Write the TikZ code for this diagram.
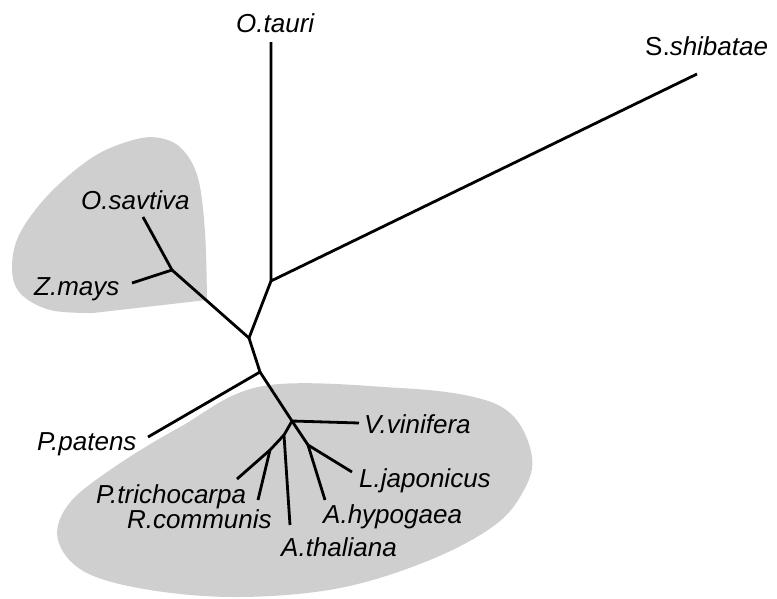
\documentclass[tikz,border=0pt]{standalone}
\usepackage{fontspec}
\setmainfont{Liberation Sans}
\definecolor{blobgray}{RGB}{207,207,207}
\begin{document}
\begin{tikzpicture}[x=1pt,y=-1pt,
  branch/.style={line width=2.8pt,line join=round},
  blob/.style={fill=blobgray,draw=none},
  leaf/.style={anchor=base west,inner sep=0pt,font=\fontsize{26}{31}\selectfont\itshape}]
\useasboundingbox (0,0) rectangle (777,598);
% shaded clades
\fill[blob] plot[smooth,tension=0.6] coordinates {(207,300) (205,232) (198,178) (182,149) (160,138) (133,140) (93,157) (50,193) (20,233) (12,267) (20,293) (50,310) (93,313)} -- (207,300) -- cycle;
\fill[blob] plot[smooth cycle,tension=0.6] coordinates {(263,386) (400,388) (478,398) (515,418) (532,457) (524,490) (495,525) (430,560) (340,588) (240,597) (150,590) (85,572) (58,540) (68,505) (110,470) (180,427)};
% internal nodes
\coordinate (n1) at (271,281);
\coordinate (n2) at (249,338);
\coordinate (n3) at (172,270);
\coordinate (n4) at (260,372);
\coordinate (n5) at (292,421);
\coordinate (n6) at (308,445);
\coordinate (n7) at (284,435);
\coordinate (n8) at (270,450);
% leaf ends
\coordinate (tauE) at (271,42);
\coordinate (shiE) at (697,74);
\coordinate (savE) at (143,217);
\coordinate (zmaE) at (132,283);
\coordinate (patE) at (148,437);
\coordinate (vinE) at (359,423);
\coordinate (japE) at (352,472);
\coordinate (hypE) at (325,500);
\coordinate (thaE) at (290,525);
\coordinate (triE) at (237,479);
\coordinate (ricE) at (258,500);
% branches
\draw[branch] (tauE) -- (n1) -- (shiE);
\draw[branch] (n1) -- (n2) -- (n3) -- (savE);
\draw[branch] (n3) -- (zmaE);
\draw[branch] (n2) -- (n4) -- (patE);
\draw[branch] (n4) -- (n5) -- (vinE);
\draw[branch] (n5) -- (n6) -- (japE);
\draw[branch] (n6) -- (hypE);
\draw[branch] (n5) -- (n7) -- (thaE);
\draw[branch] (n7) -- (n8) -- (triE);
\draw[branch] (n8) -- (ricE);
% labels
\node[leaf] (tau) at (236,32) {O.tauri};
\node[leaf] (shi) at (645,55) {\upshape S.\itshape shibatae};
\node[leaf] (sav) at (81,209) {O.savtiva};
\node[leaf] (zma) at (34,295) {Z.mays};
\node[leaf] (pat) at (37,450) {P.patens};
\node[leaf] (vin) at (364,433) {V.vinifera};
\node[leaf] (jap) at (359,487) {L.japonicus};
\node[leaf] (hyp) at (323,523) {A.hypogaea};
\node[leaf] (tha) at (281,556) {A.thaliana};
\node[leaf] (tri) at (96,503) {P.trichocarpa};
\node[leaf] (ric) at (127,528) {R.communis};
\end{tikzpicture}
\end{document}
